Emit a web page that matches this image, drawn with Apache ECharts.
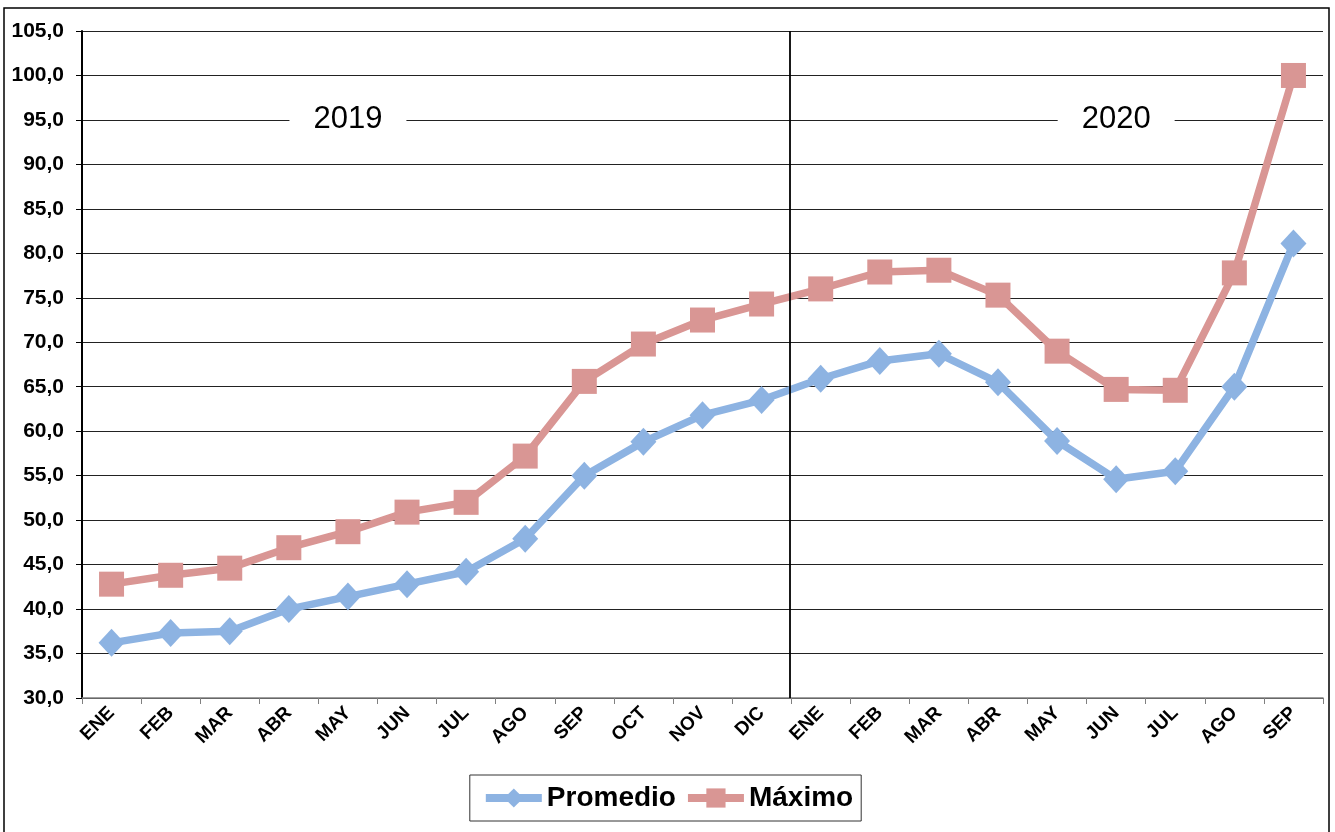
<!DOCTYPE html>
<html>
<head>
<meta charset="utf-8">
<script src="https://cdn.jsdelivr.net/npm/echarts@6/dist/echarts.min.js"></script>
<style>
  html, body { margin: 0; padding: 0; background: #fff; }
  #chart { width: 1335px; height: 832px; }
</style>
</head>
<body>
<div id="chart"></div>
<script>
// months: Jan 2019 .. Sep 2020
const months = ['ENE', 'FEB', 'MAR', 'ABR', 'MAY', 'JUN', 'JUL', 'AGO', 'SEP', 'OCT', 'NOV', 'DIC',
  'ENE', 'FEB', 'MAR', 'ABR', 'MAY', 'JUN', 'JUL', 'AGO', 'SEP'];

const promedio = [36.2, 37.3, 37.5, 40.0, 41.4, 42.8, 44.2, 47.9, 55.0, 58.8, 61.8, 63.5,
  65.9, 67.9, 68.7, 65.5, 58.9, 54.6, 55.5, 65.0, 81.1];

const maximo = [42.8, 43.8, 44.6, 46.9, 48.7, 50.9, 52.0, 57.2, 65.6, 69.8, 72.5, 74.3,
  76.0, 77.9, 78.1, 75.3, 69.0, 64.7, 64.6, 77.8, 100.0];

// year labels: [category index, value, text]
const yearLabels = [[4, 95, '2019'], [17, 95, '2020']];

// boundary between the two years (months counted from 0)
const yearBreak = 12;

const font = '"Liberation Sans", Arial, sans-serif';

let chart = echarts.init(document.getElementById('chart'));

let option = {
  animation: false,
  backgroundColor: '#fff',
  textStyle: { fontFamily: font },
  graphic: [{
    type: 'rect',
    shape: { x: 4, y: 8, width: 1325, height: 840 },
    style: { fill: 'none', stroke: '#000', lineWidth: 1.5 },
    silent: true
  }],
  grid: { left: 82, right: 12, top: 31, bottom: 134 },
  legend: {
    data: ['Promedio', 'Máximo'],
    left: 'center',
    top: 775,
    itemWidth: 56,
    itemHeight: 24,
    itemGap: 8,
    padding: [9, 8, 9, 12],
    borderColor: '#333',
    borderWidth: 1,
    lineStyle: { width: 8 },
    textStyle: { fontFamily: font, fontSize: 28, fontWeight: 'bold', color: '#000' }
  },
  xAxis: [{
    type: 'category',
    data: months,
    boundaryGap: true,
    axisLine: { lineStyle: { color: '#808080', width: 1.5 } },
    axisTick: { show: true, length: 6, lineStyle: { color: '#808080' } },
    axisLabel: {
      rotate: 45,
      margin: 12,
      fontFamily: font,
      fontSize: 19,
      fontWeight: 'bold',
      color: '#000',
      interval: 0
    },
    splitLine: { show: false }
  }, {
    // hidden helper axis so the year divider can sit between two months
    type: 'value',
    min: 0,
    max: months.length,
    show: false
  }],
  yAxis: {
    type: 'value',
    min: 30,
    max: 105,
    interval: 5,
    axisLine: { show: true, lineStyle: { color: '#000', width: 2 } },
    axisTick: { show: true, length: 6, lineStyle: { color: '#000' } },
    axisLabel: {
      fontFamily: font,
      fontSize: 21,
      fontWeight: 'bold',
      color: '#000',
      margin: 18,
      formatter: function (v) { return v.toFixed(1).replace('.', ','); }
    },
    splitLine: { lineStyle: { color: '#222', width: 1.2 } }
  },
  series: [
    {
      name: 'divider',
      type: 'line',
      xAxisIndex: 1,
      data: [],
      silent: true,
      z: 1,
      markLine: {
        symbol: 'none',
        silent: true,
        label: { show: false },
        lineStyle: { color: '#000', width: 1.8, type: 'solid' },
        data: [{ xAxis: yearBreak - 0.03 }]
      }
    },
    {
      name: 'Promedio',
      type: 'line',
      data: promedio,
      symbol: 'diamond',
      symbolSize: [26, 28],
      lineStyle: { color: '#8db3e2', width: 7.5 },
      itemStyle: { color: '#8db3e2' },
      z: 3,
      markPoint: {
        symbol: 'rect',
        symbolSize: 0,
        silent: true,
        data: yearLabels.map(function (d) {
          return {
            coord: [d[0], d[1]],
            label: {
              show: true,
              position: 'inside',
              formatter: d[2],
              fontFamily: font,
              fontSize: 31,
              color: '#000',
              backgroundColor: '#fff',
              padding: [2, 24, 2, 24]
            }
          };
        })
      }
    },
    {
      name: 'Máximo',
      type: 'line',
      data: maximo,
      symbol: 'rect',
      symbolSize: 25,
      lineStyle: { color: '#d99694', width: 7.5 },
      itemStyle: { color: '#d99694' },
      z: 3
    }
  ]
};

chart.setOption(option);
</script>
</body>
</html>
